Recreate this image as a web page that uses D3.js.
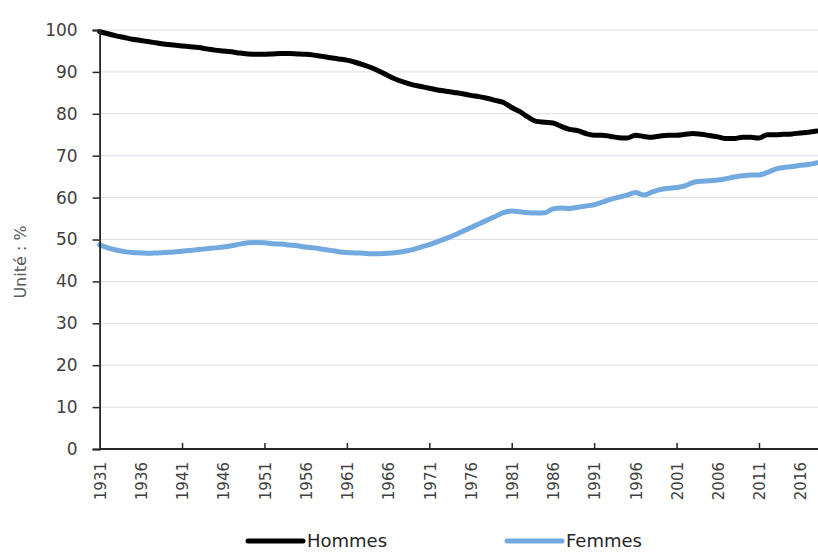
<!DOCTYPE html>
<html lang="fr">
  <head>
    <meta charset="UTF-8" />
    <title>Hommes / Femmes</title>
    <script src="https://d3js.org/d3.v7.min.js"></script>
    <style>
      body { margin: 0; background: #fff; }
      text { font-family: "DejaVu Sans", sans-serif; fill: #404040; }
    </style>
  </head>
  <body>
    <div id="chart"></div>
  </body>
</html>

<script>
  const years = d3.range(1931, 2019)

  const hommes = [
    99.6, 99.1, 98.6, 98.2, 97.8, 97.5, 97.2, 96.9, 96.6, 96.4,
    96.2, 96.0, 95.8, 95.5, 95.2, 95.0, 94.8, 94.5, 94.3, 94.2,
    94.2, 94.3, 94.4, 94.4, 94.3, 94.2, 94.0, 93.7, 93.4, 93.1,
    92.8, 92.3, 91.7, 91.0, 90.1, 89.1, 88.2, 87.5, 86.9, 86.5,
    86.1, 85.7, 85.4, 85.1, 84.8, 84.4, 84.1, 83.7, 83.2, 82.7,
    81.5, 80.5, 79.2, 78.2, 78.0, 77.8, 77.0, 76.3, 76.0, 75.3,
    74.9, 74.9, 74.6, 74.3, 74.2, 74.9, 74.6, 74.4, 74.7, 74.9,
    74.9, 75.1, 75.3, 75.1, 74.8, 74.5, 74.1, 74.1, 74.4, 74.4,
    74.2, 75.0, 75.0, 75.1, 75.2, 75.4, 75.6, 75.9
  ]

  const femmes = [
    48.7, 48.0, 47.5, 47.1, 46.9, 46.8, 46.7, 46.8, 46.9, 47.0,
    47.2, 47.4, 47.6, 47.8, 48.0, 48.2, 48.5, 48.9, 49.2, 49.3,
    49.2, 49.0, 48.9, 48.7, 48.5, 48.2, 48.0, 47.7, 47.4, 47.1,
    46.9, 46.8, 46.7, 46.6, 46.6, 46.7, 46.9, 47.2, 47.6, 48.2,
    48.8, 49.5, 50.2, 51.0, 51.9, 52.8, 53.7, 54.6, 55.5, 56.4,
    56.8, 56.6, 56.4, 56.3, 56.4, 57.3, 57.5, 57.4, 57.7, 58.0,
    58.3, 58.9, 59.6, 60.1, 60.6, 61.2, 60.6, 61.3, 61.9, 62.2,
    62.4, 62.8, 63.6, 63.9, 64.0, 64.2, 64.5, 64.9, 65.2, 65.4,
    65.4, 66.0, 66.8, 67.2, 67.4, 67.7, 67.9, 68.3
  ]

  const yTicks = d3.range(0, 101, 10)
  const labelYears = d3.range(1931, 2019, 5)
  const tickYears = d3.range(1941, 2019, 10)

  const series = [
    { name: "Hommes", values: hommes, color: "#000000" },
    { name: "Femmes", values: femmes, color: "#72a9de" }
  ]

  const width = 818
  const height = 552

  const svg = d3
    .select("#chart")
    .append("svg")
    .attr("width", width)
    .attr("height", height)

  const x = d3.scaleLinear().domain([1931, 2018]).range([99.6, 816.7])
  const y = d3.scaleLinear().domain([0, 100]).range([449, 30])

  // gridlines
  svg
    .append("g")
    .selectAll("line")
    .data(yTicks.filter((d) => d > 0))
    .enter()
    .append("line")
    .attr("x1", x(1931))
    .attr("x2", width)
    .attr("y1", (d) => y(d))
    .attr("y2", (d) => y(d))
    .attr("stroke", "#d9dee6")
    .attr("stroke-width", 1)

  // lines
  const line = d3
    .line()
    .x((d, i) => x(years[i]))
    .y((d) => y(d))
    .curve(d3.curveMonotoneX)

  svg
    .append("g")
    .selectAll("path")
    .data(series)
    .enter()
    .append("path")
    .attr("d", (d) => line(d.values))
    .attr("fill", "none")
    .attr("stroke", (d) => d.color)
    .attr("stroke-width", 5)
    .attr("stroke-linejoin", "round")
    .attr("stroke-linecap", "round")

  // y axis
  const yAxis = svg
    .append("g")
    .attr("transform", `translate(${x(1931)},0)`)
    .call(d3.axisLeft(y).tickValues(yTicks).tickSize(7).tickPadding(15))
  yAxis.select(".domain").attr("stroke", "#262626").attr("stroke-width", 1.8)
  yAxis.selectAll(".tick line").attr("stroke", "#262626").attr("stroke-width", 1.5)
  yAxis
    .selectAll(".tick text")
    .style("font-size", "17px")
    .style("font-family", "DejaVu Sans, sans-serif")
    .attr("fill", "#404040")

  // x axis: ticks every 10 years, pointing inward
  const xTicksAxis = svg
    .append("g")
    .attr("transform", `translate(0,${y(0)})`)
    .call(d3.axisBottom(x).tickValues(tickYears).tickSize(-6).tickFormat(""))
  xTicksAxis.select(".domain").remove()
  xTicksAxis.selectAll(".tick line").attr("stroke", "#262626").attr("stroke-width", 1.5)

  svg
    .append("line")
    .attr("x1", x(1931))
    .attr("x2", width)
    .attr("y1", y(0))
    .attr("y2", y(0))
    .attr("stroke", "#262626")
    .attr("stroke-width", 1.8)

  // x labels, rotated
  svg
    .append("g")
    .selectAll("text")
    .data(labelYears)
    .enter()
    .append("text")
    .attr("transform", (d) => `translate(${x(d) + 1},${y(0) + 13}) rotate(-90)`)
    .attr("text-anchor", "end")
    .attr("dy", "0.35em")
    .style("font-size", "15px")
    .text((d) => d)

  // y title
  svg
    .append("text")
    .attr("transform", "translate(20,262) rotate(-90)")
    .attr("text-anchor", "middle")
    .attr("dy", "0.35em")
    .style("font-size", "16px")
    .style("fill", "#595959")
    .text("Unité : %")

  // legend
  const legendX = [248, 507]
  const legend = svg
    .append("g")
    .selectAll("g")
    .data(series)
    .enter()
    .append("g")
    .attr("transform", (d, i) => `translate(${legendX[i]},541)`)

  legend
    .append("line")
    .attr("x1", 0)
    .attr("x2", 55)
    .attr("stroke", (d) => d.color)
    .attr("stroke-width", 5)
    .attr("stroke-linecap", "round")

  legend
    .append("text")
    .attr("x", 59)
    .attr("dy", "0.33em")
    .style("font-size", "18px")
    .style("fill", "#262626")
    .text((d) => d.name)
</script>
